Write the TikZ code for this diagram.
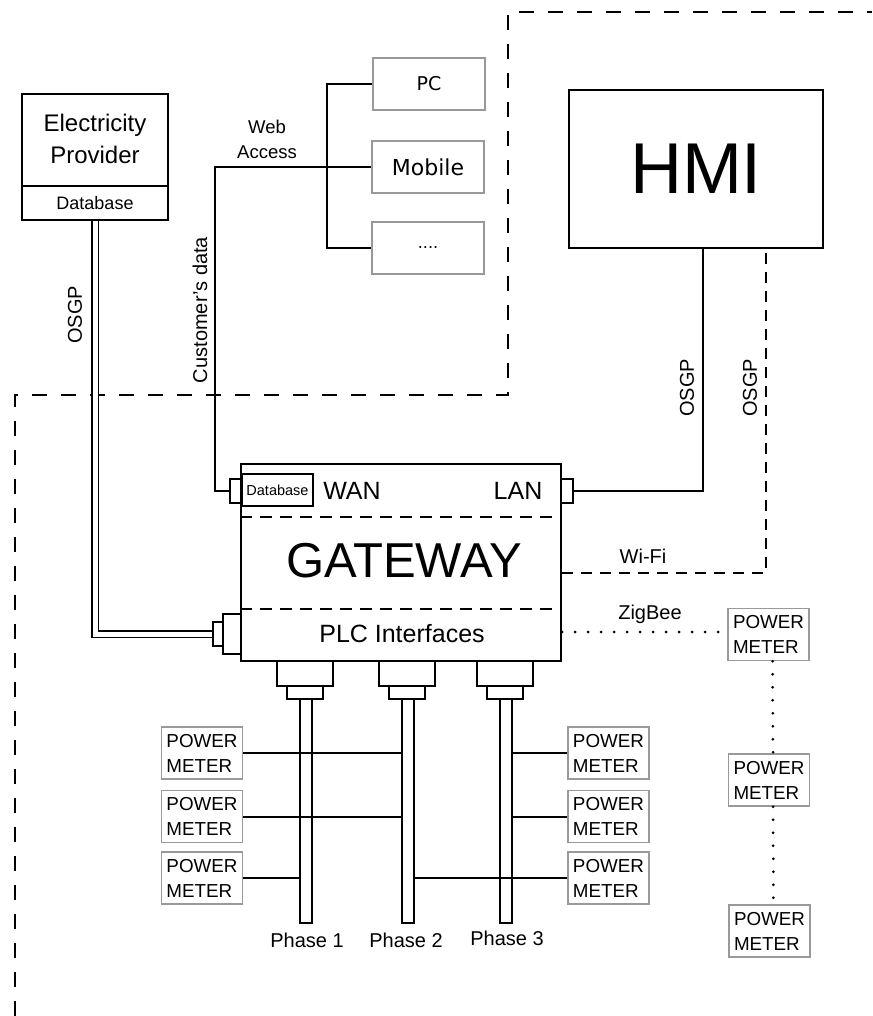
\documentclass[tikz,border=0pt]{standalone}
\usepackage{fontspec}
\setmainfont{Liberation Sans}
\newfontfamily\dvs{DejaVu Sans}
\usetikzlibrary{calc}
\begin{document}
\begin{tikzpicture}[x=1pt,y=-1pt,
  fs/.style={font=\fontsize{#1}{#1}\selectfont},
  box/.style={draw, line width=2pt, inner sep=0pt},
  gbox/.style={draw=black!40, line width=1.5pt, inner sep=0pt},
  pm/.style={gbox, minimum width=81pt, minimum height=52pt, align=left,
    font=\fontsize{18.8}{25}\selectfont},
  dev/.style={gbox, minimum width=112pt, minimum height=52pt},
  conn/.style={box, line width=1.8pt},
  wire/.style={line width=2pt},
  dbl/.style={double, double distance=5pt, line width=1.6pt},
  border/.style={line width=2.5pt, dash pattern=on 15pt off 14pt},
  dsh/.style={line width=2pt, dash pattern=on 11pt off 8pt},
  dots/.style={line width=3pt, line cap=round, dash pattern=on 0pt off 13pt},
  lbl/.style={inner sep=0pt}
]
\useasboundingbox (0,0) rectangle (872,1016);

% boundary of the customer premises
\draw[border] (15,1016) -- (15,395) -- (508,395) -- (508,12) -- (872,12);

% Electricity provider
\node[box, minimum width=146pt, minimum height=126pt] (ep) at (95,157) {};
\node[lbl, align=center, font=\fontsize{24}{32}\selectfont] (eptxt) at (95,139) {Electricity\\Provider};
\node[box, minimum width=146pt, minimum height=34pt, fs=18] (epdb) at (95,203) {Database};

% web devices
\node[dev, font=\dvs\fontsize{19}{19}\selectfont] (pc) at (429,84) {PC};
\node[dev, font=\dvs\fontsize{22}{22}\selectfont] (mob) at (428,167) {Mobile};
\node[dev, font=\dvs\fontsize{16}{16}\selectfont] (more) at (428,248) {....};
\node[lbl, align=center, font=\fontsize{18.5}{25}\selectfont] (web) at (267,139) {Web\\Access};

% HMI
\node[box, minimum width=254pt, minimum height=158pt, fs=72] (hmi) at (696,169) {HMI};

% Gateway
\node[box, line width=2.4pt, minimum width=320pt, minimum height=197pt] (gw) at (401,562.5) {};
\draw[dsh, dash pattern=on 12pt off 8pt] (gw.west |- 0,517) -- (gw.east |- 0,517);
\draw[dsh, dash pattern=on 12pt off 8pt] (gw.west |- 0,609) -- (gw.east |- 0,609);
\node[lbl, fs=49] (gwtxt) at (404,561) {GATEWAY};
\node[lbl, fs=25] (plc) at (402,634) {PLC Interfaces};
\node[lbl, fs=25] (wan) at (352,491) {WAN};
\node[lbl, fs=25] (lan) at (518,491) {LAN};
\node[box, line width=1.6pt, minimum width=71pt, minimum height=32pt, fs=14.5] (gwdb) at (277.5,490) {Database};

% gateway connectors
\node[conn, minimum width=12pt, minimum height=24pt] (wanc) at (236,491) {};
\node[conn, minimum width=12pt, minimum height=24pt] (lanc) at (567,491) {};
\node[conn, minimum width=18pt, minimum height=40pt] (plcc1) at (232,634) {};
\node[conn, minimum width=10pt, minimum height=24pt] (plcc2) at (218,634) {};

% phase connectors and bars
\foreach \i/\cx in {1/305,2/407,3/505}{
  \node[conn, minimum width=56pt, minimum height=25pt] (pu\i) at (\cx,673.5) {};
  \node[conn, minimum width=36pt, minimum height=13pt] (pl\i) at (\cx,692.5) {};
  \node[box, line width=1.6pt, minimum width=12pt, minimum height=224pt] (ph\i) at (\cx+1,811) {};
}
\node[lbl, fs=20] (ph1t) at (307,940) {Phase 1};
\node[lbl, fs=20] (ph2t) at (406,940) {Phase 2};
\node[lbl, fs=20] (ph3t) at (507,938) {Phase 3};

% power meters on the phases
\node[pm] (lm1) at (202,753) {POWER\\METER};
\node[pm] (lm2) at (202,816.5) {POWER\\METER};
\node[pm] (lm3) at (202,878) {POWER\\METER};
\node[pm] (rm1) at (608.5,753) {POWER\\METER};
\node[pm] (rm2) at (608.5,816.5) {POWER\\METER};
\node[pm] (rm3) at (608.5,878) {POWER\\METER};
\draw[wire] (lm1.east) -- (lm1.east -| ph2.west);
\draw[wire] (lm2.east) -- (lm2.east -| ph2.west);
\draw[wire] (lm3.east) -- (lm3.east -| ph1.west);
\draw[wire] (rm1.west) -- (rm1.west -| ph3.east);
\draw[wire] (rm2.west) -- (rm2.west -| ph3.east);
\draw[wire] (rm3.west) -- (rm3.west -| ph2.east);

% ZigBee meters
\node[pm] (zm1) at (768.5,634.5) {POWER\\METER};
\node[pm] (zm2) at (769,780) {POWER\\METER};
\node[pm] (zm3) at (769.5,931) {POWER\\METER};
\draw[dots] ($(zm1.south)+(4,0)$) -- ($(zm2.north)+(4,0)$);
\draw[dots] ($(zm2.south)+(4,0)$) -- ($(zm3.north)+(4,0)$);
\draw[dots] (gw.east |- 0,632) -- (zm1.west |- 0,632);
\node[lbl, fs=20] (zig) at (650,614) {ZigBee};

% Wi-Fi
\coordinate (wifi) at (766,573);
\draw[dsh] (gw.east |- wifi) -- (wifi) -- (wifi |- hmi.south);
\node[lbl, fs=20] (wifit) at (643,556) {Wi-Fi};
\node[lbl, fs=20, rotate=90] (osgp3) at (750,388) {OSGP};

% LAN to HMI
\coordinate (lanturn) at (703,491);
\draw[wire] (lanc.east) -- (lanturn) -- (lanturn |- hmi.south);
\node[lbl, fs=20, rotate=90] (osgp2) at (687,388) {OSGP};

% WAN to web access
\coordinate (wanturn) at (215,167);
\coordinate (wa) at (327,167);
\draw[wire] (wanc.west) -| (wanturn) -- (mob.west);
\draw[wire] (pc.west) -| (wa) |- (more.west);
\node[lbl, fs=20, rotate=90] (cust) at (200,310) {Customer's data};

% OSGP to electricity provider
\draw[dbl] (epdb.south) |- (plcc2.west);
\node[lbl, fs=20, rotate=90] (osgp1) at (75,315) {OSGP};
\end{tikzpicture}
\end{document}
